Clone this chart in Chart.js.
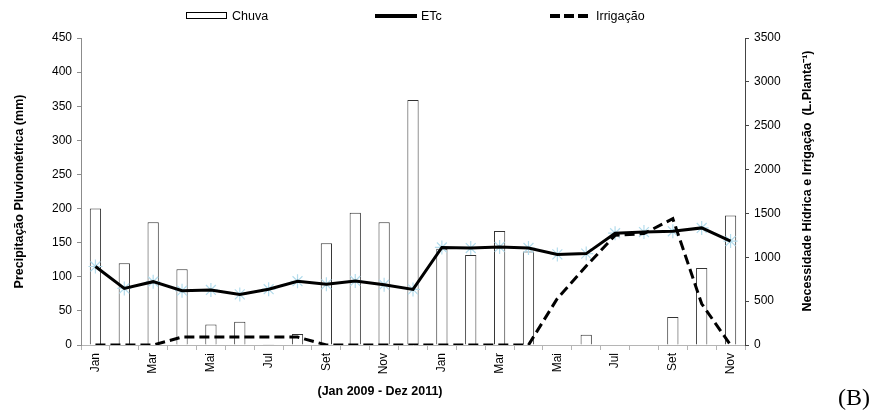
<!DOCTYPE html>
<html lang="pt">
<head>
<meta charset="utf-8">
<title>Chuva, ETc e Irrigação</title>
<script src="https://cdn.jsdelivr.net/npm/chart.js@4/dist/chart.umd.min.js"></script>
<style>
    body { margin: 0; background: #fff; font-family: "Liberation Sans", Arial, sans-serif; }
    #wrap { position: relative; width: 883px; height: 418px; }
    #chart { position: absolute; left: 0; top: 0; }
    .legend-item { position: absolute; top: 9px; font-size: 12.5px; color: #000; display: flex; align-items: center; }
    .legend-item svg { margin-right: 4px; }
    #panel { position: absolute; left: 838px; top: 384px; font-family: "Liberation Serif", "Times New Roman", serif; font-size: 24px; color: #000; }
</style>
</head>
<body>
<div id="wrap">
    <canvas id="chart" width="883" height="418"></canvas>
    <div class="legend-item" style="left:186px">
        <svg width="42" height="8"><rect x="0.5" y="0.5" width="40" height="6" fill="#fff" stroke="#000"/></svg>Chuva
    </div>
    <div class="legend-item" style="left:375px">
        <svg width="42" height="8"><line x1="0" y1="4" x2="42" y2="4" stroke="#000" stroke-width="4"/></svg>ETc
    </div>
    <div class="legend-item" style="left:550px">
        <svg width="42" height="8"><line x1="0" y1="4" x2="40" y2="4" stroke="#000" stroke-width="4" stroke-dasharray="10 4"/></svg>Irrigação
    </div>
    <div id="panel">(B)</div>
</div>
<script>
// Months Jan 2009 ... Nov 2010
const months = ['Jan', 'Fev', 'Mar', 'Abr', 'Mai', 'Jun', 'Jul', 'Ago', 'Set', 'Out', 'Nov', 'Dez',
                'Jan', 'Fev', 'Mar', 'Abr', 'Mai', 'Jun', 'Jul', 'Ago', 'Set', 'Out', 'Nov'];

// Rainfall (mm) - left axis
const chuva = [200, 120, 180, 111, 30, 34, 1, 16, 149, 194, 180, 359,
               141, 132, 167, 137, 0, 15, 0, 0, 41, 113, 190];

// Crop water need (L.planta-1) - right axis
const etc = [895, 645, 722, 619, 628, 577, 636, 727, 692, 730, 688, 634,
             1112, 1105, 1118, 1106, 1033, 1042, 1275, 1288, 1296, 1335, 1185];

// Irrigation (L.planta-1) - right axis
const irrigacao = [0, 0, 0, 90, 90, 90, 90, 90, 0, 0, 0, 0,
                   0, 0, 0, 0, 530, 900, 1250, 1270, 1440, 470, 0];

const leftTicks = { min: 0, max: 450, step: 50 };
const rightTicks = { min: 0, max: 3500, step: 500 };

const FONT = '"Liberation Sans", Arial, sans-serif';
const TICK_FONT = { family: FONT, size: 12 };

// axis titles drawn by hand: both vertical ones read bottom-to-top
const axisTitles = {
    id: 'axisTitles',
    afterDraw(chart) {
        const { ctx, chartArea } = chart;
        ctx.save();
        ctx.fillStyle = '#000';
        ctx.font = 'bold 12.5px ' + FONT;
        ctx.textAlign = 'center';
        ctx.textBaseline = 'middle';

        ctx.save();
        ctx.translate(20, (chartArea.top + chartArea.bottom) / 2);
        ctx.rotate(-Math.PI / 2);
        ctx.fillText('Precipitação Pluviométrica (mm)', 0, 0);
        ctx.restore();

        ctx.save();
        ctx.translate(808, 181);
        ctx.rotate(-Math.PI / 2);
        ctx.fillText('Necessidade Hídrica e Irrigação  (L.Planta⁻¹)', 0, 0);
        ctx.restore();

        ctx.fillText('(Jan 2009 - Dez 2011)', 380, 392);
        ctx.restore();
    }
};

new Chart(document.getElementById('chart'), {
    type: 'bar',
    data: {
        labels: months,
        datasets: [
            {
                label: 'ETc',
                type: 'line',
                data: etc,
                yAxisID: 'y1',
                borderColor: '#000',
                borderWidth: 3,
                pointRadius: 0,
                tension: 0,
                order: 1
            },
            {
                label: 'Irrigação',
                type: 'line',
                data: irrigacao,
                yAxisID: 'y1',
                borderColor: '#000',
                borderWidth: 3,
                borderDash: [10, 5],
                pointRadius: 0,
                tension: 0,
                order: 2
            },
            {
                // star markers sit under the ETc line
                label: 'ETc pontos',
                type: 'line',
                data: etc,
                yAxisID: 'y1',
                showLine: false,
                pointStyle: 'star',
                pointRadius: 7,
                pointBorderColor: '#b3dcec',
                pointBorderWidth: 1.2,
                order: 3
            },
            {
                label: 'Chuva',
                data: chuva,
                yAxisID: 'y',
                backgroundColor: '#fff',
                borderColor: '#333',
                borderWidth: 1,
                categoryPercentage: 1,
                barPercentage: 0.39,
                order: 4
            }
        ]
    },
    options: {
        responsive: false,
        animation: false,
        devicePixelRatio: 1,
        layout: { padding: { top: 38, left: 0, right: 0, bottom: 0 } },
        plugins: {
            legend: { display: false },
            tooltip: { enabled: false }
        },
        scales: {
            x: {
                afterFit: scale => { scale.height = 73; },
                border: { display: true, color: '#b5b5b5', dash: [3, 2], width: 1 },
                grid: { drawOnChartArea: false, drawTicks: true, tickLength: 5, tickColor: '#b5b5b5', offset: true },
                ticks: {
                    autoSkip: false,
                    minRotation: 90,
                    maxRotation: 90,
                    padding: 3,
                    color: '#000',
                    font: TICK_FONT,
                    callback: (val, i) => (i % 2 === 0 ? months[i] : '')
                }
            },
            y: {
                position: 'left',
                min: leftTicks.min,
                max: leftTicks.max,
                afterFit: scale => { scale.width = 81; },
                border: { display: true, color: '#8c8c8c', width: 1 },
                grid: { drawOnChartArea: false, drawTicks: true, tickLength: 4, tickColor: '#8c8c8c' },
                ticks: {
                    stepSize: leftTicks.step,
                    padding: 5,
                    color: '#000',
                    font: TICK_FONT,
                    callback: v => String(v)
                }
            },
            y1: {
                position: 'right',
                min: rightTicks.min,
                max: rightTicks.max,
                afterFit: scale => { scale.width = 138; },
                border: { display: true, color: '#444', width: 1 },
                grid: { drawOnChartArea: false, drawTicks: true, tickLength: 4, tickColor: '#444' },
                ticks: {
                    stepSize: rightTicks.step,
                    padding: 5,
                    color: '#000',
                    font: TICK_FONT,
                    callback: v => String(v)
                }
            }
        }
    },
    plugins: [axisTitles]
});
</script>
</body>
</html>
